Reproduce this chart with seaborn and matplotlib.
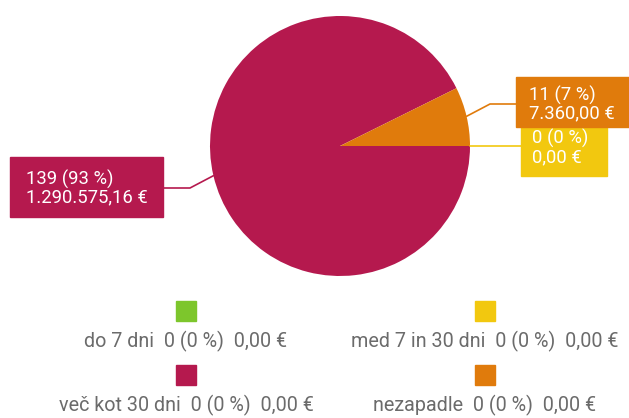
import numpy as np
import matplotlib
matplotlib.use("Agg")
import matplotlib.pyplot as plt
import seaborn as sns
from matplotlib.patches import Rectangle

# ---- data ----
categories = ["do 7 dni", "med 7 in 30 dni", "več kot 30 dni", "nezapadle"]
counts = [0, 0, 139, 11]
pct_labels = ["0 (0 %)", "0 (0 %)", "139 (93 %)", "11 (7 %)"]
amount_labels = ["0,00 €", "0,00 €", "1.290.575,16 €", "7.360,00 €"]
legend_labels = ["do 7 dni  0 (0 %)  0,00 €", "med 7 in 30 dni  0 (0 %)  0,00 €",
                 "več kot 30 dni  0 (0 %)  0,00 €", "nezapadle  0 (0 %)  0,00 €"]
colors = ["#7DC62C", "#F2C80F", "#B5194E", "#E07B0C"]

sns.set_theme(style="white")
plt.rcParams["font.family"] = ["Roboto", "DejaVu Sans"]

W, H = 629, 418
fig = plt.figure(figsize=(W / 100, H / 100), dpi=100)
ax = fig.add_axes([0, 0, 1, 1])

def Y(py):
    return H - py

cx, cy, r = 340, 146, 130
# pie order (clockwise from 3 o'clock): yellow, crimson, orange
order = [1, 2, 3]
wedges, _ = ax.pie([counts[i] for i in order], colors=[colors[i] for i in order],
                   startangle=0, counterclock=False, center=(cx, Y(cy)), radius=r,
                   wedgeprops=dict(linewidth=0))
ax.set_xlim(0, W)
ax.set_ylim(0, H)
ax.set_aspect("equal")
ax.axis("off")

def edge(w):
    a = np.deg2rad((w.theta1 + w.theta2) / 2)
    return cx + r * np.cos(a), Y(cy) + r * np.sin(a)

txt = dict(color="white", fontsize=13.3, va="center", ha="left", zorder=6)

# yellow label (count 0)
ex, ey = edge(wedges[0])
ax.plot([ex, 521], [ey, ey], color=colors[1], lw=1.2, zorder=3)
ax.add_patch(Rectangle((521, Y(176)), 86, 49, color=colors[1], zorder=4))
ax.text(532, Y(138), pct_labels[1], **txt)
ax.text(532, Y(157), amount_labels[1], **txt)

# orange label
ex, ey = edge(wedges[2])
ax.plot([ex, 490, 516], [ey, Y(104), Y(104)], color=colors[3], lw=1.2, zorder=3)
ax.add_patch(Rectangle((516, Y(127)), 120, 50, color=colors[3], zorder=7))
ax.text(529, Y(95), pct_labels[3], **{**txt, "zorder": 8})
ax.text(529, Y(113), amount_labels[3], **{**txt, "zorder": 8})

# crimson label
ex, ey = edge(wedges[1])
ax.plot([ex, 190, 163], [ey, Y(188), Y(188)], color=colors[2], lw=1.2, zorder=3)
ax.add_patch(Rectangle((10, Y(217)), 153, 60, color=colors[2], zorder=4))
ax.text(26, Y(179), pct_labels[2], **txt)
ax.text(26, Y(197), amount_labels[2], **txt)

# legend
pos = [(186, 311), (485, 311), (186, 375), (485, 375)]
for (px, py), c, lab in zip(pos, colors, legend_labels):
    ax.add_patch(Rectangle((px - 10, Y(py) - 10), 20, 20, color=c, zorder=4))
    ax.text(px, Y(py + 30), lab, color="#6b6b6b", fontsize=14.2, ha="center", va="center")

fig.savefig("out.png", dpi=100)
